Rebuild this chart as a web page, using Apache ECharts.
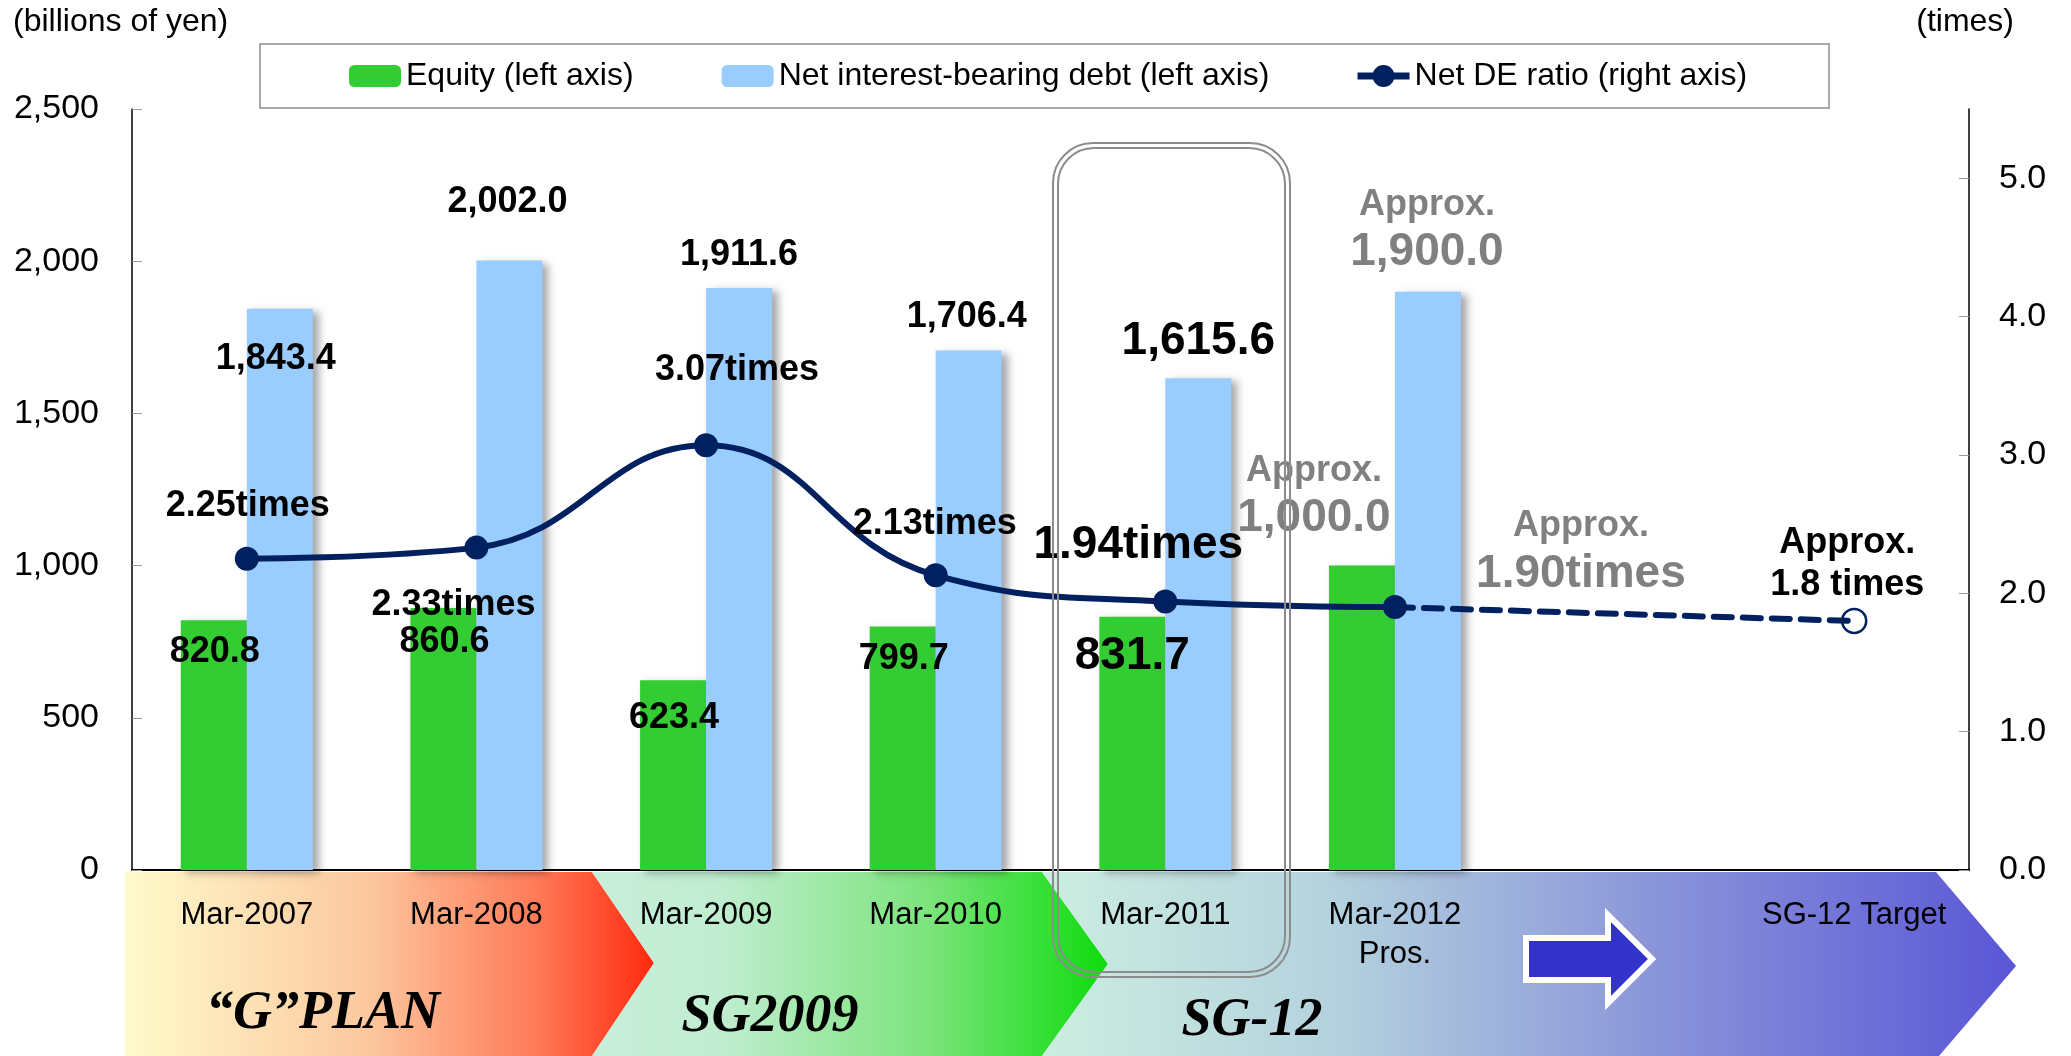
<!DOCTYPE html>
<html>
<head>
<meta charset="utf-8">
<script src="https://cdn.jsdelivr.net/npm/echarts@6/dist/echarts.min.js"></script>
<style>
  html, body { margin: 0; padding: 0; background: #fff; }
  #chart { width: 2071px; height: 1056px; }
</style>
</head>
<body>
<div id="chart"></div>
<script>
// categories and values (billions of yen / times)
const categories = ['Mar-2007', 'Mar-2008', 'Mar-2009', 'Mar-2010', 'Mar-2011', 'Mar-2012\nPros.', '', 'SG-12 Target']
const equity = [820.8, 860.6, 623.4, 799.7, 831.7, 1000.0, null, null]
const netDebt = [1843.4, 2002.0, 1911.6, 1706.4, 1615.6, 1900.0, null, null]
const deRatio = [2.25, 2.33, 3.07, 2.13, 1.94, 1.90, null, null]
const deTarget = [null, null, null, null, null, 1.90, null, 1.8]
const leftTicks = [0, 500, 1000, 1500, 2000, 2500]
const rightTicks = [0, 1, 2, 3, 4, 5]

const FONT = '"Liberation Sans", Arial, sans-serif'
const SERIF = '"Liberation Serif", "Times New Roman", serif'
const NAVY = '#002060'
const GREY = '#808080'

// label placement (style only)
const equityLabelOffset = [[1, 32], [1, 34], [1, 38], [1, 33], [0, 39], [-48, -69]]
const debtLabelOffset = [[-4, 50], [-2, -59], [0, -33], [-2, -33], [0, -37], [-1, -61]]
const ratioLabelOffset = [[1, -53], [-23, 57], [31, -75], [-1, -51], [-27, -56], [186, -55]]
const bigIndex = 4
const approxIndex = 5

const fmt1 = v => v.toLocaleString('en-US', { minimumFractionDigits: 1, maximumFractionDigits: 1 })

const rich = {
  n: { fontSize: 36, fontWeight: 'bold', color: '#000', fontFamily: FONT, lineHeight: 42 },
  big: { fontSize: 46, fontWeight: 'bold', color: '#000', fontFamily: FONT, lineHeight: 52 },
  ap: { fontSize: 36, fontWeight: 'bold', color: GREY, fontFamily: FONT, lineHeight: 44 },
  apv: { fontSize: 46, fontWeight: 'bold', color: GREY, fontFamily: FONT, lineHeight: 52 }
}

function barItems(values, offsets) {
  return values.map((v, i) => {
    if (v == null) return '-'
    let text
    if (i === approxIndex) text = '{ap|Approx.}\n{apv|' + fmt1(v) + '}'
    else if (i === bigIndex) text = '{big|' + fmt1(v) + '}'
    else text = '{n|' + fmt1(v) + '}'
    return {
      value: v,
      label: {
        show: true,
        position: 'top',
        distance: 0,
        align: 'center',
        verticalAlign: 'middle',
        offset: offsets[i],
        formatter: text,
        rich
      }
    }
  })
}

function ratioItems(values) {
  return values.map((v, i) => {
    if (v == null) return '-'
    let text
    if (i === approxIndex) text = '{ap|Approx.}\n{apv|' + v.toFixed(2) + 'times}'
    else if (i === bigIndex) text = '{big|' + v.toFixed(2) + 'times}'
    else text = '{n|' + v.toFixed(2) + 'times}'
    return {
      value: v,
      label: {
        show: true,
        position: 'inside',
        align: 'center',
        verticalAlign: 'middle',
        offset: ratioLabelOffset[i],
        formatter: text,
        rich
      }
    }
  })
}

function targetItems(values) {
  return values.map((v, i) => {
    if (v == null) return '-'
    if (i === approxIndex) return { value: v, symbolSize: 0 }
    return {
      value: v,
      symbol: 'circle',
      symbolSize: 24,
      itemStyle: { color: 'rgba(255,255,255,0)', borderColor: NAVY, borderWidth: 2.5 },
      label: {
        show: true,
        position: 'inside',
        align: 'center',
        verticalAlign: 'middle',
        offset: [-7, -57],
        formatter: '{n|Approx.}\n{n|' + v.toFixed(1) + ' times}',
        rich
      }
    }
  })
}

function bandGradient(stops) {
  return new echarts.graphic.LinearGradient(0, 0, 1, 0,
    stops.map(s => ({ offset: s[0], color: s[1] })))
}

// legend icon for the ratio line: thick bar with a round marker
const lineIcon = 'path://M0,7.5L52,7.5L52,14.5L0,14.5Z M15,11A11,11 0 1,1 37,11A11,11 0 1,1 15,11Z'

const chart = echarts.init(document.getElementById('chart'))

const option = {
  animation: false,
  backgroundColor: '#fff',
  grid: { left: 132, right: 102, top: 109, bottom: 186 },
  legend: {
    left: 260,
    top: 44,
    data: [
      { name: 'Equity (left axis)' },
      { name: 'Net interest-bearing debt (left axis)' },
      { name: 'Net DE ratio (right axis)', icon: lineIcon, itemStyle: { color: NAVY } }
    ],
    itemWidth: 52,
    itemHeight: 22,
    itemGap: 88,
    padding: [16, 82, 16, 89],
    borderColor: '#aaaaaa',
    borderWidth: 2,
    backgroundColor: '#fff',
    textStyle: { fontSize: 32, color: '#000', fontFamily: FONT }
  },
  xAxis: {
    type: 'category',
    data: categories,
    axisLine: { lineStyle: { color: '#000', width: 2 } },
    axisTick: { inside: true, length: 10, lineStyle: { color: '#999' } },
    axisLabel: { interval: 0, fontSize: 31, color: '#000', fontFamily: FONT, margin: 26, lineHeight: 39 }
  },
  yAxis: [
    {
      type: 'value',
      min: leftTicks[0],
      max: leftTicks[leftTicks.length - 1],
      interval: leftTicks[1] - leftTicks[0],
      axisLine: { show: true, lineStyle: { color: '#000', width: 1.5 } },
      axisTick: { show: true, inside: true, length: 10, lineStyle: { color: '#999' } },
      splitLine: { show: false },
      axisLabel: {
        fontSize: 34, color: '#000', fontFamily: FONT, margin: 33,
        formatter: v => v.toLocaleString('en-US')
      }
    },
    {
      type: 'value',
      min: rightTicks[0],
      max: 5.5,
      interval: rightTicks[1] - rightTicks[0],
      axisLine: { show: true, lineStyle: { color: '#000', width: 1.5 } },
      axisTick: { show: true, inside: true, length: 10, lineStyle: { color: '#999' } },
      splitLine: { show: false },
      axisLabel: {
        fontSize: 34, color: '#000', fontFamily: FONT, margin: 30, showMaxLabel: false,
        formatter: v => v.toFixed(1)
      }
    }
  ],
  series: [
    {
      name: 'Equity (left axis)',
      type: 'bar',
      barWidth: 66,
      barGap: '0%',
      itemStyle: { color: '#33CC33', shadowColor: 'rgba(0,0,0,0.3)', shadowBlur: 8, shadowOffsetX: 5, shadowOffsetY: 3 },
      data: barItems(equity, equityLabelOffset),
      z: 2
    },
    {
      name: 'Net interest-bearing debt (left axis)',
      type: 'bar',
      barWidth: 66,
      itemStyle: { color: '#99CCFF', shadowColor: 'rgba(0,0,0,0.35)', shadowBlur: 8, shadowOffsetX: 6, shadowOffsetY: 3 },
      data: barItems(netDebt, debtLabelOffset),
      z: 2
    },
    {
      name: 'Net DE ratio (right axis)',
      type: 'line',
      yAxisIndex: 1,
      smooth: 0.45,
      symbol: 'circle',
      symbolSize: 24,
      itemStyle: { color: NAVY },
      lineStyle: { color: NAVY, width: 6 },
      data: ratioItems(deRatio),
      z: 5
    },
    {
      name: 'target',
      type: 'line',
      yAxisIndex: 1,
      connectNulls: true,
      symbol: 'circle',
      symbolSize: 24,
      itemStyle: { color: NAVY },
      lineStyle: { color: NAVY, width: 6, type: [18, 11], cap: 'round' },
      data: targetItems(deTarget),
      z: 4
    }
  ],
  graphic: [
    // plan bands under the category axis
    {
      type: 'polygon', z: -10, silent: true,
      shape: { points: [[125, 872], [592, 872], [654, 963], [592, 1056], [125, 1056]] },
      style: { fill: bandGradient([[0, '#FFFBCC'], [0.45, '#FCC9A0'], [0.78, '#FF7A58'], [1, '#FF2A0E']]) }
    },
    {
      type: 'polygon', z: -10, silent: true,
      shape: { points: [[592, 872], [1042, 872], [1108, 964], [1042, 1056], [592, 1056], [654, 963]] },
      style: { fill: bandGradient([[0, '#C8EEDA'], [0.25, '#C0EDD0'], [0.65, '#7CE47C'], [1, '#0EDC0E']]) }
    },
    {
      type: 'polygon', z: -10, silent: true,
      shape: { points: [[1042, 872], [1936, 872], [2016, 966], [1939, 1056], [1042, 1056], [1108, 964]] },
      style: { fill: bandGradient([[0, '#CCEEE0'], [0.3, '#B4D2DE'], [0.6, '#8E9ADA'], [1, '#5A56D6']]) }
    },
    {
      type: 'polygon', z: 10, silent: true,
      shape: { points: [[1526, 938], [1608, 938], [1608, 915], [1652, 959], [1608, 1003], [1608, 980], [1526, 980]] },
      style: { fill: '#3333CC', stroke: '#fff', lineWidth: 6 }
    },
    {
      type: 'text', z: 10, silent: true, x: 323, y: 1014,
      style: { text: '\u201CG\u201DPLAN', font: 'italic bold 54px ' + SERIF, fill: '#000', align: 'center', verticalAlign: 'middle' }
    },
    {
      type: 'text', z: 10, silent: true, x: 770, y: 1017,
      style: { text: 'SG2009', font: 'italic bold 54px ' + SERIF, fill: '#000', align: 'center', verticalAlign: 'middle' }
    },
    {
      type: 'text', z: 10, silent: true, x: 1252, y: 1021,
      style: { text: 'SG-12', font: 'italic bold 54px ' + SERIF, fill: '#000', align: 'center', verticalAlign: 'middle' }
    },
    // unit captions
    {
      type: 'text', z: 10, silent: true, x: 13, y: 22,
      style: { text: '(billions of yen)', font: '32px ' + FONT, fill: '#000', align: 'left', verticalAlign: 'middle' }
    },
    {
      type: 'text', z: 10, silent: true, x: 2014, y: 22,
      style: { text: '(times)', font: '32px ' + FONT, fill: '#000', align: 'right', verticalAlign: 'middle' }
    },
    // highlight frame around Mar-2011
    {
      type: 'rect', z: 100, silent: true,
      shape: { x: 1053, y: 143, width: 237, height: 834, r: 40 },
      style: { fill: 'none', stroke: '#8c8c8c', lineWidth: 2 }
    },
    {
      type: 'rect', z: 100, silent: true,
      shape: { x: 1058, y: 148, width: 227, height: 824, r: 36 },
      style: { fill: 'none', stroke: '#8c8c8c', lineWidth: 2 }
    }
  ]
}

chart.setOption(option)
</script>
</body>
</html>
